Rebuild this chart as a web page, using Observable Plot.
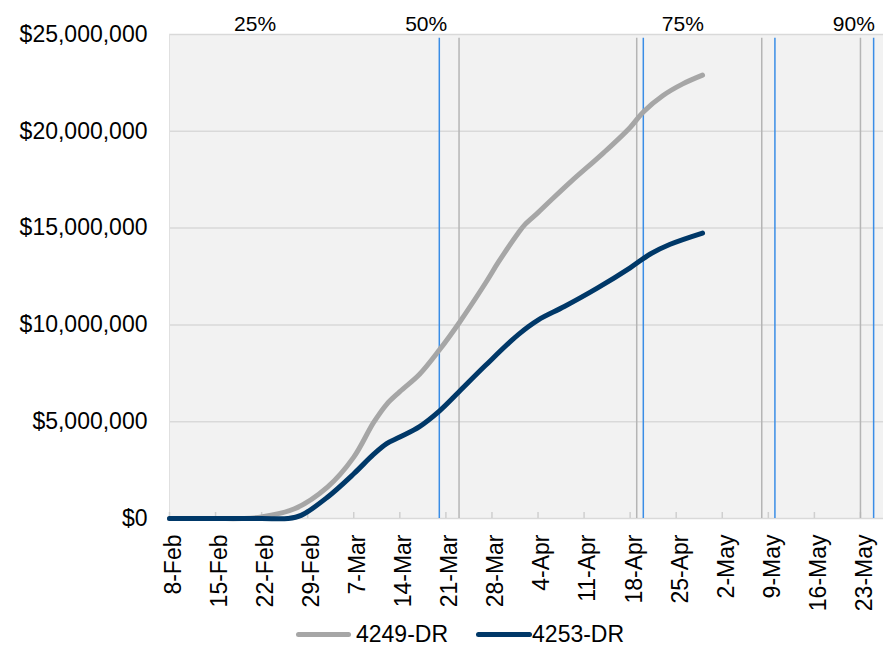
<!DOCTYPE html>
<html>
<head>
<meta charset="utf-8">
<script src="https://cdn.jsdelivr.net/npm/d3@7"></script>
<script src="https://cdn.jsdelivr.net/npm/@observablehq/plot@0.6"></script>
<style>
  body { margin: 0; background: #fff; font-family: "Liberation Sans", Arial, sans-serif; }
  #legend { display: flex; align-items: center; height: 32px; padding-left: 296px; font-size: 23px; color: #000; }
  .sw { display: inline-block; height: 5px; border-radius: 3px; }
</style>
</head>
<body>
<div id="chart"></div>
<div id="legend"></div>
<script>
// ---- data ----
const seriesNames = ["4249-DR", "4253-DR"];
const seriesColors = ["#a6a6a6", "#003868"];

const dates4249 = ["2020-02-08","2020-02-15","2020-02-19","2020-02-22","2020-02-27","2020-03-03","2020-03-07","2020-03-10","2020-03-12","2020-03-14","2020-03-17","2020-03-20","2020-03-23","2020-03-27","2020-03-29","2020-04-01","2020-04-02","2020-04-04","2020-04-06","2020-04-09","2020-04-14","2020-04-18","2020-04-20","2020-04-23","2020-04-26","2020-04-29"];
const values4249 = [0, 0, 0, 80000, 500000, 1620000, 3170000, 4950000, 5900000, 6550000, 7450000, 8700000, 10100000, 12150000, 13250000, 14750000, 15180000, 15800000, 16450000, 17400000, 18900000, 20200000, 21000000, 21850000, 22450000, 22900000];

const dates4253 = ["2020-02-08","2020-02-15","2020-02-22","2020-02-26","2020-02-28","2020-03-03","2020-03-07","2020-03-10","2020-03-12","2020-03-14","2020-03-17","2020-03-20","2020-03-23","2020-03-27","2020-04-01","2020-04-04","2020-04-08","2020-04-13","2020-04-18","2020-04-21","2020-04-24","2020-04-29"];
const values4253 = [0, 0, 0, 0, 160000, 1100000, 2310000, 3310000, 3870000, 4210000, 4750000, 5550000, 6550000, 7900000, 9500000, 10250000, 10950000, 11900000, 12950000, 13650000, 14150000, 14740000];

const greyMarkerDates = ["2020-03-23", "2020-04-19", "2020-05-08", "2020-05-23"];
const blueMarkerDates = ["2020-03-20", "2020-04-20", "2020-05-10", "2020-05-25"];

const pctLabels = ["25%", "50%", "75%", "90%"];
const pctLabelDates = ["2020-02-21", "2020-03-18", "2020-04-26", "2020-05-22"];

const xTickDates = ["2020-02-08","2020-02-15","2020-02-22","2020-02-29","2020-03-07","2020-03-14","2020-03-21","2020-03-28","2020-04-04","2020-04-11","2020-04-18","2020-04-25","2020-05-02","2020-05-09","2020-05-16","2020-05-23"];
const yTicks = [0, 5000000, 10000000, 15000000, 20000000, 25000000];
const xDomain = ["2020-02-08", "2020-05-26T12:00"];
const yDomain = [0, 25000000];

// ---- build ----
const parse = s => new Date(s + (s.length === 10 ? "T00:00Z" : "Z"));
const rows = [
  ...dates4249.map((d, i) => ({date: parse(d), value: values4249[i], series: seriesNames[0]})),
  ...dates4253.map((d, i) => ({date: parse(d), value: values4253[i], series: seriesNames[1]}))
];
const xTicks = xTickDates.map(parse);
const pct = pctLabels.map((t, i) => ({text: t, date: parse(pctLabelDates[i])}));

const chart = Plot.plot({
  width: 883,
  height: 618,
  marginTop: 34,
  marginBottom: 100,
  marginLeft: 169,
  marginRight: 0,
  style: {fontFamily: "'Liberation Sans', Arial, sans-serif", fontSize: "23px", color: "#000", background: "#fff", overflow: "visible"},
  x: {type: "utc", domain: xDomain.map(parse)},
  y: {domain: yDomain},
  color: {domain: seriesNames, range: seriesColors},
  marks: [
    Plot.frame({fill: "#f2f2f2", stroke: null}),
    Plot.ruleY(yTicks, {stroke: "#d9d9d9", strokeWidth: 1.5}),
    Plot.ruleX([xDomain[0]].map(parse), {stroke: "#e0e0e0", strokeWidth: 1}),
    Plot.tickX(xTicks, {x: d => d, insetTop: 478, stroke: "#cfcfcf", strokeWidth: 1.5}),
    Plot.axisX(xTicks, {tickSize: 0, tickPadding: 16, tickRotate: -90, tickFormat: d3.utcFormat("%-d-%b"), fontSize: 23, dx: 4, fill: "#000", label: null}),
    Plot.axisY(yTicks, {tickSize: 0, tickPadding: 22, tickFormat: d3.format("$,.0f"), fontSize: 23, fill: "#000", label: null}),
    Plot.ruleX(greyMarkerDates.map(parse), {x: d => d, y1: 0, y2: 24800000, stroke: "#b5b5b5", strokeWidth: 1.5}),
    Plot.ruleX(blueMarkerDates.map(parse), {x: d => d, y1: 0, y2: 24800000, stroke: "#3a8de6", strokeWidth: 1.5}),
    Plot.line(rows, {x: "date", y: "value", z: "series", stroke: "series", strokeWidth: 5, curve: "catmull-rom", strokeLinecap: "round", strokeLinejoin: "round"}),
    Plot.text(pct, {x: "date", y: yDomain[1], text: "text", dy: -4, lineAnchor: "bottom", fontSize: 21, fill: "#000"})
  ]
});
document.getElementById("chart").appendChild(chart);

const legend = document.getElementById("legend");
const swWidths = [55, 56];
const gaps = ["5px", "0px"];
seriesNames.forEach((name, i) => {
  const item = document.createElement("span");
  item.style.display = "inline-flex";
  item.style.alignItems = "center";
  item.style.marginRight = i === 0 ? "28px" : "0";
  const sw = document.createElement("span");
  sw.className = "sw";
  sw.style.width = swWidths[i] + "px";
  sw.style.background = seriesColors[i];
  sw.style.marginRight = gaps[i];
  const label = document.createElement("span");
  label.textContent = name;
  item.appendChild(sw);
  item.appendChild(label);
  legend.appendChild(item);
});
</script>
</body>
</html>
